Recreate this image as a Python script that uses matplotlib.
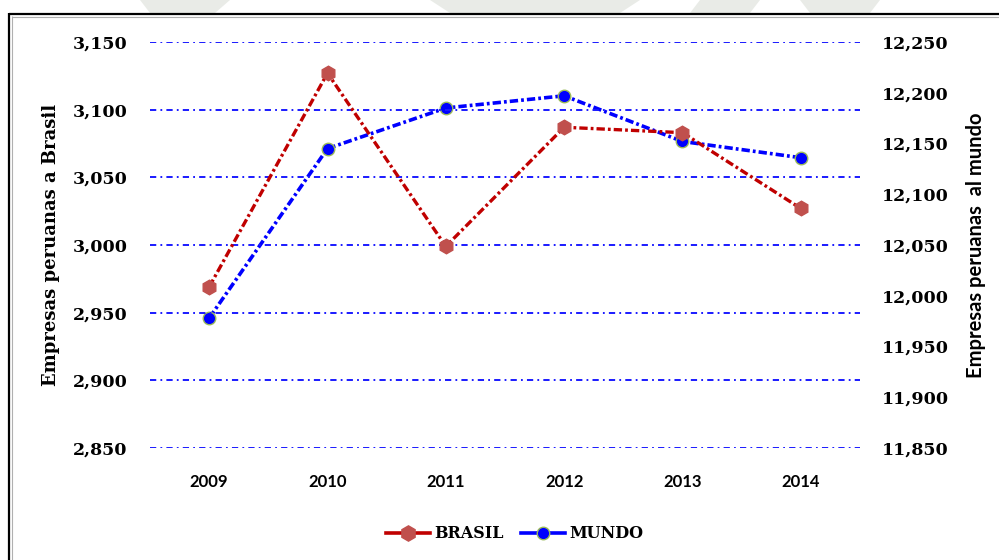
import matplotlib
matplotlib.use("Agg")
import matplotlib.pyplot as plt
from matplotlib.lines import Line2D
from matplotlib.patches import Polygon
from matplotlib.ticker import FuncFormatter

plt.rcParams['lines.scale_dashes'] = False

# Data
years = ["2009", "2010", "2011", "2012", "2013", "2014"]
brasil = [2969, 3127, 2999, 3087, 3083, 3027]
mundo = [11978, 12145, 12185, 12197, 12152, 12136]

left_ticks = [2850, 2900, 2950, 3000, 3050, 3100, 3150]
right_ticks = [11850, 11900, 11950, 12000, 12050, 12100, 12150, 12200, 12250]

serif_bold = dict(family="DejaVu Serif", weight="bold")
sans_bold = dict(family="Lato", weight="bold")

W, H = 999, 560
fig = plt.figure(figsize=(W / 100, H / 100), dpi=100)
fig.patch.set_facecolor("white")

# faint watermark shapes along the top strip
for pts in [
    [(140, 0), (230, 0), (215, 13), (150, 13)],
    [(430, 0), (640, 0), (620, 13), (450, 13)],
    [(700, 0), (760, 0), (750, 13), (690, 13)],
    [(800, 0), (880, 0), (870, 13), (810, 13)],
]:
    poly = Polygon([(x / W, 1 - y / H) for x, y in pts], closed=True,
                   transform=fig.transFigure, facecolor="#e4e7e1",
                   edgecolor="none", alpha=0.8, zorder=0)
    fig.add_artist(poly)

# outer frame (black line with a thin gray inner line)
def fig_line(xs, ys, color, lw):
    fig.add_artist(Line2D([x / W for x in xs], [1 - y / H for y in ys],
                          transform=fig.transFigure, color=color, lw=lw,
                          zorder=1, solid_capstyle="butt"))

fig_line([9, 9], [13, 560], "black", 1.6)
fig_line([8.5, 999], [13.5, 13.5], "black", 1.6)
fig_line([11.5, 11.5], [16, 560], "#b0b0b0", 0.8)
fig_line([11.5, 999], [16.5, 16.5], "#b0b0b0", 0.8)

left, right, top, bottom = 150, 860, 42, 448
ax = fig.add_axes([left / W, 1 - bottom / H, (right - left) / W, (bottom - top) / H])
ax2 = ax.twinx()

x = list(range(len(years)))

ax.set_xlim(-0.5, len(years) - 0.5)
ax.set_ylim(2850, 3150)
ax2.set_ylim(11850, 12250)

grid_style = (0, (4.5, 3.0, 1.3, 3.0))
for v in left_ticks:
    ax.axhline(v, color="#1a1aff", lw=1.4, linestyle=grid_style, zorder=1)

line_style = (0, (6.0, 2.2, 2.0, 2.2))
l1, = ax.plot(x, brasil, color="#C00000", lw=2.4, linestyle=line_style,
              marker="h", markersize=10.5, markerfacecolor="#C0504D",
              markeredgecolor="#C0504D", zorder=3, clip_on=False)
l2, = ax2.plot(x, mundo, color="#0000FF", lw=2.6, linestyle=line_style,
               marker="o", markersize=9, markerfacecolor="#0000FF",
               markeredgecolor="#9BBB59", markeredgewidth=1.0,
               zorder=3, clip_on=False)

ax.set_zorder(ax2.get_zorder() + 1)
ax.patch.set_visible(False)

fmt = FuncFormatter(lambda v, p: f"{int(v):,}")
ax.set_yticks(left_ticks)
ax.yaxis.set_major_formatter(fmt)
ax2.set_yticks(right_ticks)
ax2.yaxis.set_major_formatter(fmt)

ax.set_xticks(x)
ax.set_xticklabels(years)

for a in (ax, ax2):
    for s in a.spines.values():
        s.set_visible(False)
    a.tick_params(length=0)

ax.tick_params(axis="y", pad=16)
ax2.tick_params(axis="y", pad=16)
ax.tick_params(axis="x", pad=19)

for t in ax.get_yticklabels():
    t.set_fontproperties(dict(size=12.5, **serif_bold))
for t in ax2.get_yticklabels():
    t.set_fontproperties(dict(size=12.5, **serif_bold))
for t in ax.get_xticklabels():
    t.set_fontproperties(dict(size=12, **sans_bold))

ax.set_ylabel("Empresas peruanas a Brasil", fontsize=13, labelpad=9, **serif_bold)
ax2.set_ylabel("Empresas peruanas  al mundo", fontsize=14.5, labelpad=12, **sans_bold)

# legend entries drawn with solid line segments
h1 = Line2D([], [], color="#C00000", lw=2.6, marker="h", markersize=11,
            markerfacecolor="#C0504D", markeredgecolor="#C0504D")
h2 = Line2D([], [], color="#0000FF", lw=2.6, marker="o", markersize=9,
            markerfacecolor="#0000FF", markeredgecolor="#9BBB59",
            markeredgewidth=1.0)
fig.legend(handles=[h1, h2], labels=["BRASIL", "MUNDO"], loc="center",
           bbox_to_anchor=(515 / W, 1 - 534 / H), ncol=2, frameon=False,
           handlelength=2.7, handletextpad=0.3, columnspacing=1.1,
           prop=dict(size=11.5, **serif_bold))

fig.savefig("out.png", dpi=100, facecolor="white")
